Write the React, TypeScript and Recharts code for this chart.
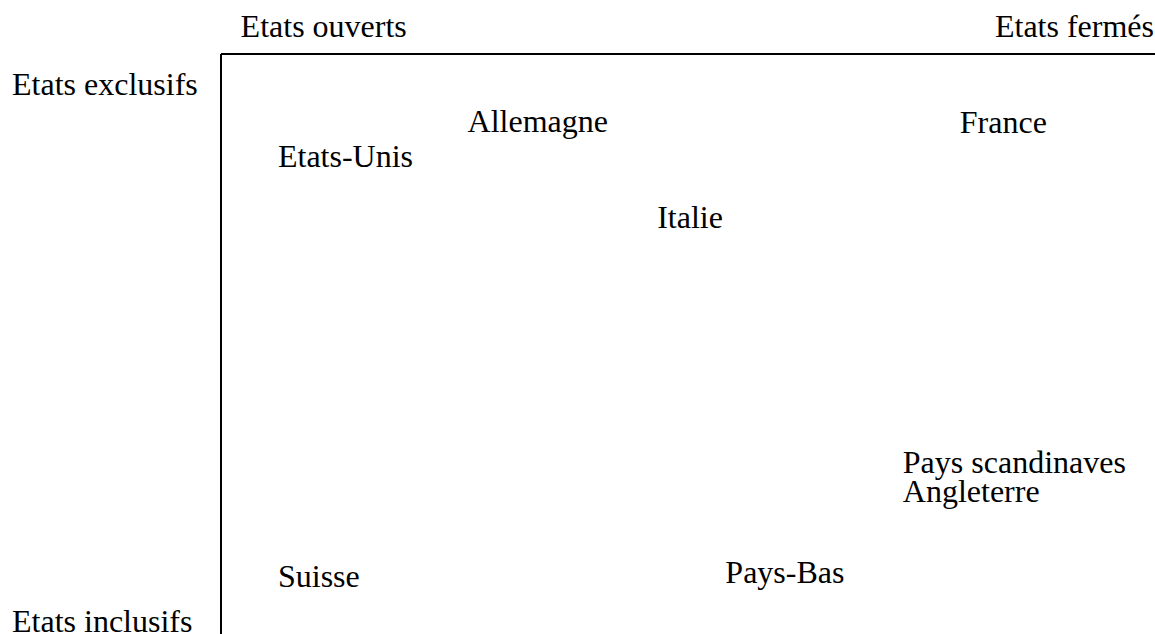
import React from 'react';
import { ScatterChart, Scatter, XAxis, YAxis } from 'recharts';

// Countries placed on the open/closed (x) vs inclusive/exclusive (y) plane, 0-100 scale
const countries = ['Etats-Unis', 'Allemagne', 'France', 'Italie', 'Pays scandinaves', 'Angleterre', 'Suisse', 'Pays-Bas'];
const openness = [6.1, 26.4, 79.1, 46.7, 73.0, 73.0, 6.1, 54.0];
const exclusivity = [80.5, 86.6, 86.4, 70.0, 27.8, 22.8, 8.1, 8.8];

// axis end labels
const xTickValues = [2.1, 100];
const xTickLabels = ['Etats ouverts', 'Etats fermés'];
const yTickValues = [92.9, 0.3];
const yTickLabels = ['Etats exclusifs', 'Etats inclusifs'];

const data = countries.map((name, i) => ({ name, x: openness[i], y: exclusivity[i] }));

const FONT = '"Liberation Serif", "Times New Roman", serif';
const FONT_SIZE = 32;
const MARGIN = { top: 53, right: 0, bottom: 0, left: 220 };

const XTick = (props: any) => {
  const { x, payload, index } = props;
  const label = xTickLabels[xTickValues.indexOf(payload.value)] ?? '';
  return (
    <text
      x={index === 0 ? x : x - 1}
      y={37}
      textAnchor={index === 0 ? 'start' : 'end'}
      fontFamily={FONT}
      fontSize={FONT_SIZE}
      fill="#000"
    >
      {label}
    </text>
  );
};

const YTick = (props: any) => {
  const { y, payload } = props;
  const label = yTickLabels[yTickValues.indexOf(payload.value)] ?? '';
  return (
    <text x={12} y={y} textAnchor="start" fontFamily={FONT} fontSize={FONT_SIZE} fill="#000">
      {label}
    </text>
  );
};

const CountryLabel = (props: any) => {
  const { cx, cy, payload } = props;
  return (
    <text x={cx} y={cy} fontFamily={FONT} fontSize={FONT_SIZE} fill="#000">
      {payload.name}
    </text>
  );
};

export default function App() {
  return (
    <div style={{ position: 'absolute', left: 0, top: 0, background: '#fff' }}>
      <ScatterChart width={1155} height={634} margin={MARGIN}>
        <XAxis
          type="number"
          dataKey="x"
          orientation="top"
          domain={[0, 100]}
          ticks={xTickValues}
          interval={0}
          height={1}
          tickLine={false}
          tick={<XTick />}
          axisLine={{ stroke: '#000', strokeWidth: 2 }}
        />
        <YAxis
          type="number"
          dataKey="y"
          domain={[0, 100]}
          ticks={yTickValues}
          interval={0}
          width={1}
          tickLine={false}
          tick={<YTick />}
          axisLine={{ stroke: '#000', strokeWidth: 2 }}
        />
        <Scatter data={data} shape={<CountryLabel />} isAnimationActive={false} />
      </ScatterChart>
    </div>
  );
}
